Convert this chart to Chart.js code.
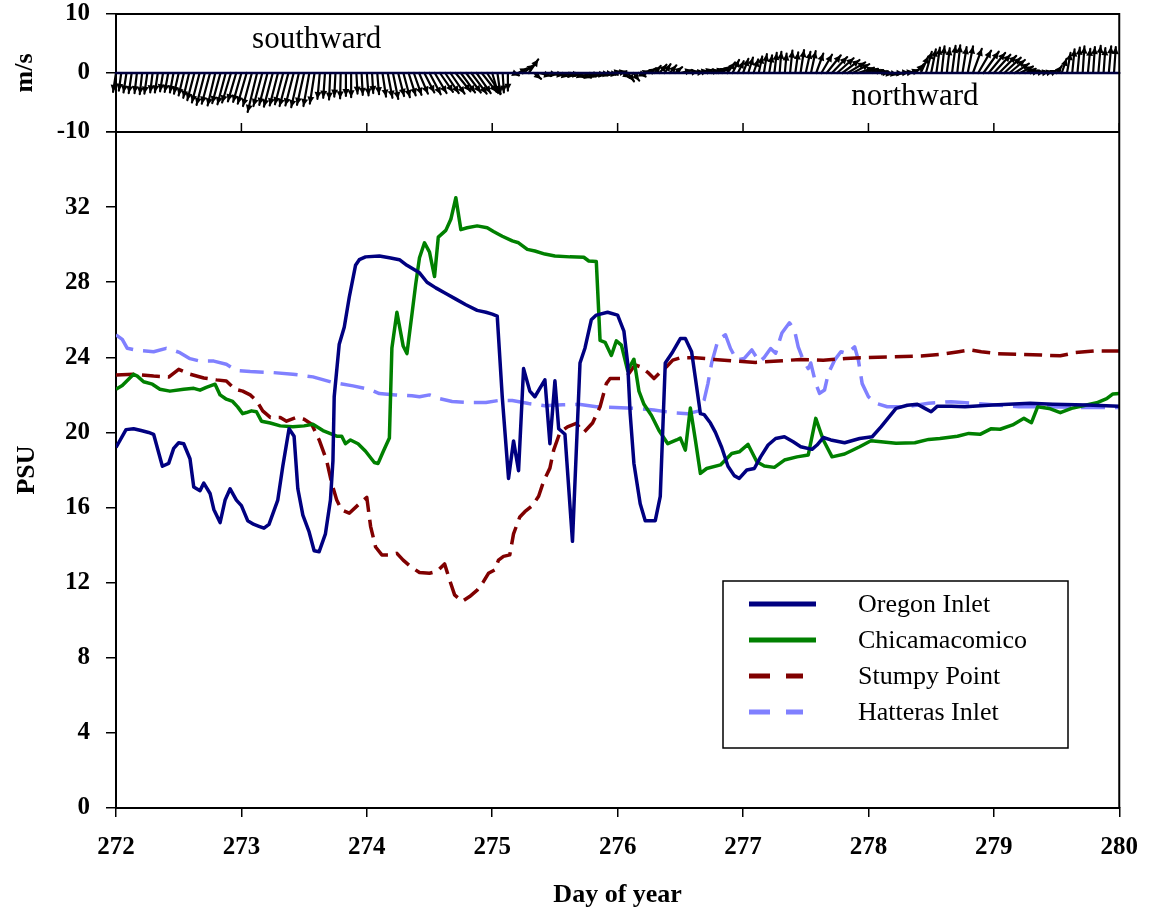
<!DOCTYPE html>
<html>
<head>
<meta charset="utf-8">
<script src="https://cdn.jsdelivr.net/npm/chart.js@4.4.0/dist/chart.umd.min.js"></script>
<style>
  html, body { margin: 0; padding: 0; background: #fff; }
  #wrap { width: 1154px; height: 915px; }
</style>
</head>
<body>
<div id="wrap"><canvas id="chart" width="1154" height="915"></canvas></div>
<script>
// Salinity series: [day of year, PSU]
const seriesNames = ['Oregon Inlet', 'Chicamacomico', 'Stumpy Point', 'Hatteras Inlet'];

const oregonInlet = [
  [272.00,19.2],[272.08,20.15],[272.14,20.2],[272.20,20.1],[272.26,20.0],[272.30,19.9],[272.37,18.2],[272.42,18.35],
  [272.46,19.15],[272.50,19.45],[272.54,19.4],[272.59,18.6],[272.62,17.1],[272.67,16.9],[272.70,17.3],[272.75,16.75],
  [272.78,15.9],[272.83,15.2],[272.87,16.4],[272.91,17.0],[272.96,16.4],[273.00,16.1],[273.05,15.3],[273.10,15.1],
  [273.14,15.0],[273.18,14.9],[273.22,15.1],[273.29,16.4],[273.33,18.2],[273.38,20.2],[273.42,19.8],[273.45,17.0],
  [273.49,15.6],[273.54,14.7],[273.58,13.7],[273.62,13.65],[273.67,14.6],[273.71,16.4],[273.73,18.5],[273.74,21.9],
  [273.78,24.7],[273.82,25.6],[273.86,27.2],[273.91,28.9],[273.94,29.2],[273.99,29.35],[274.10,29.4],[274.18,29.3],
  [274.26,29.2],[274.32,28.9],[274.42,28.5],[274.48,28.0],[274.55,27.7],[274.63,27.4],[274.71,27.1],[274.79,26.8],
  [274.88,26.5],[274.95,26.4],[275.00,26.3],[275.04,26.2],[275.08,21.9],[275.13,17.55],[275.17,19.55],[275.21,17.96],
  [275.25,23.4],[275.30,22.2],[275.34,21.9],[275.42,22.8],[275.46,19.4],[275.50,22.75],[275.53,20.2],[275.58,19.9],
  [275.64,14.2],[275.70,23.7],[275.74,24.5],[275.79,26.0],[275.83,26.25],[275.92,26.4],[276.00,26.25],[276.05,25.4],
  [276.08,23.7],[276.10,21.0],[276.13,18.35],[276.18,16.2],[276.22,15.3],[276.30,15.3],[276.34,16.6],[276.38,23.7],
  [276.44,24.3],[276.50,25.0],[276.54,25.0],[276.59,24.3],[276.62,22.9],[276.66,21.0],[276.69,20.95],[276.74,20.5],
  [276.78,20.0],[276.83,19.2],[276.88,18.2],[276.93,17.7],[276.97,17.55],[277.03,18.0],[277.09,18.08],[277.14,18.7],
  [277.20,19.33],[277.26,19.68],[277.33,19.77],[277.40,19.5],[277.46,19.24],[277.55,19.1],[277.59,19.33],[277.64,19.73],
  [277.70,19.6],[277.81,19.45],[277.93,19.68],[278.03,19.77],[278.10,20.3],[278.22,21.28],[278.31,21.45],[278.39,21.5],
  [278.45,21.28],[278.50,21.1],[278.55,21.4],[278.66,21.4],[278.77,21.37],[278.99,21.46],[279.29,21.55],[279.47,21.5],
  [279.74,21.46],[280.00,21.4]
];

const chicamacomico = [
  [272.00,22.3],[272.05,22.5],[272.14,23.1],[272.17,23.0],[272.22,22.7],[272.29,22.57],[272.35,22.3],[272.43,22.2],
  [272.54,22.3],[272.62,22.35],[272.67,22.25],[272.72,22.4],[272.79,22.57],[272.83,22.0],[272.88,21.77],[272.93,21.65],
  [272.97,21.36],[273.01,21.0],[273.04,21.06],[273.08,21.15],[273.12,21.1],[273.16,20.6],[273.23,20.5],[273.31,20.35],
  [273.41,20.3],[273.50,20.35],[273.57,20.44],[273.65,20.1],[273.76,19.8],[273.80,19.8],[273.83,19.4],[273.87,19.6],
  [273.93,19.4],[273.99,19.0],[274.06,18.4],[274.09,18.35],[274.13,18.97],[274.18,19.7],[274.20,24.5],[274.24,26.4],
  [274.29,24.6],[274.32,24.2],[274.36,26.3],[274.39,27.9],[274.42,29.3],[274.46,30.1],[274.50,29.6],[274.54,28.3],
  [274.57,30.4],[274.63,30.76],[274.67,31.35],[274.71,32.5],[274.75,30.8],[274.80,30.9],[274.88,31.0],[274.96,30.9],
  [275.01,30.7],[275.08,30.45],[275.16,30.2],[275.21,30.1],[275.28,29.75],[275.34,29.66],[275.42,29.5],[275.50,29.4],
  [275.62,29.35],[275.73,29.33],[275.77,29.13],[275.83,29.1],[275.86,24.9],[275.90,24.8],[275.95,24.1],[275.99,24.88],
  [276.03,24.65],[276.08,23.3],[276.13,23.9],[276.17,22.2],[276.21,21.5],[276.27,20.9],[276.33,20.1],[276.40,19.4],
  [276.47,19.6],[276.50,19.7],[276.54,19.06],[276.58,21.3],[276.62,19.6],[276.66,17.82],[276.71,18.08],[276.82,18.27],
  [276.91,18.88],[276.97,18.97],[277.04,19.36],[277.11,18.44],[277.17,18.21],[277.25,18.14],[277.33,18.53],[277.43,18.7],
  [277.52,18.8],[277.58,20.75],[277.64,19.6],[277.71,18.7],[277.81,18.85],[277.93,19.24],[278.02,19.56],[278.10,19.5],
  [278.22,19.42],[278.37,19.45],[278.48,19.63],[278.57,19.68],[278.71,19.8],[278.80,19.95],[278.89,19.9],[278.98,20.2],
  [279.05,20.17],[279.15,20.4],[279.24,20.75],[279.30,20.52],[279.35,21.37],[279.44,21.28],[279.53,21.05],[279.62,21.28],
  [279.73,21.45],[279.82,21.58],[279.90,21.8],[279.95,22.05],[280.00,22.08]
];

const stumpyPoint = [
  [272.00,23.06],[272.14,23.1],[272.30,23.0],[272.42,22.95],[272.50,23.36],[272.59,23.1],[272.70,22.9],[272.80,22.8],
  [272.88,22.74],[272.95,22.3],[273.01,22.2],[273.07,22.0],[273.12,21.7],[273.17,21.15],[273.23,20.8],[273.31,20.8],
  [273.36,20.6],[273.44,20.8],[273.50,20.7],[273.56,20.44],[273.62,19.6],[273.68,18.5],[273.72,17.3],[273.76,16.4],
  [273.80,15.87],[273.86,15.7],[273.94,16.2],[274.00,16.54],[274.03,15.0],[274.07,13.9],[274.12,13.48],[274.18,13.48],
  [274.24,13.56],[274.29,13.2],[274.35,12.85],[274.42,12.54],[274.50,12.5],[274.56,12.6],[274.62,13.0],[274.66,12.15],
  [274.70,11.35],[274.76,11.0],[274.82,11.26],[274.88,11.6],[274.93,12.05],[274.97,12.5],[275.02,12.68],[275.05,13.2],
  [275.09,13.4],[275.14,13.48],[275.17,14.6],[275.22,15.5],[275.26,15.78],[275.32,16.1],[275.37,16.6],[275.41,17.4],
  [275.46,18.1],[275.49,19.06],[275.54,20.0],[275.60,20.3],[275.67,20.48],[275.73,20.0],[275.80,20.5],[275.86,21.37],
  [275.91,22.6],[275.94,22.87],[276.03,22.87],[276.08,23.05],[276.14,23.6],[276.18,23.5],[276.24,23.2],[276.29,22.87],
  [276.33,23.14],[276.39,23.5],[276.44,23.85],[276.50,23.98],[276.62,23.98],[276.77,23.89],[276.95,23.8],[277.10,23.73],
  [277.28,23.8],[277.46,23.89],[277.64,23.85],[277.82,23.94],[278.00,23.99],[278.21,24.03],[278.42,24.07],[278.60,24.18],
  [278.72,24.3],[278.81,24.4],[278.90,24.3],[279.02,24.2],[279.20,24.16],[279.38,24.12],[279.53,24.08],[279.65,24.25],
  [279.80,24.34],[280.00,24.34]
];

const hatterasInlet = [
  [272.00,25.2],[272.05,24.96],[272.09,24.48],[272.17,24.37],[272.30,24.3],[272.40,24.48],[272.46,24.37],[272.51,24.25],
  [272.59,23.93],[272.67,23.8],[272.78,23.8],[272.88,23.63],[272.96,23.3],[273.07,23.24],[273.25,23.19],[273.41,23.1],
  [273.57,22.96],[273.73,22.66],[273.89,22.48],[274.02,22.3],[274.10,22.07],[274.23,22.0],[274.36,21.95],[274.42,21.9],
  [274.50,22.0],[274.58,21.8],[274.68,21.65],[274.81,21.6],[274.95,21.6],[275.05,21.7],[275.16,21.7],[275.29,21.54],
  [275.42,21.42],[275.56,21.47],[275.69,21.5],[275.83,21.37],[275.98,21.33],[276.14,21.28],[276.29,21.19],[276.44,21.05],
  [276.56,21.0],[276.65,21.15],[276.69,21.73],[276.72,22.6],[276.75,23.7],[276.80,24.92],[276.86,25.2],[276.90,24.47],
  [276.95,23.85],[277.01,23.94],[277.07,24.4],[277.13,23.76],[277.17,24.0],[277.22,24.47],[277.26,24.22],[277.31,25.3],
  [277.37,25.84],[277.41,25.45],[277.44,24.56],[277.48,23.85],[277.52,23.4],[277.54,23.7],[277.58,22.6],[277.61,22.08],
  [277.65,22.26],[277.68,23.14],[277.73,23.85],[277.78,24.3],[277.83,24.2],[277.89,24.56],[277.92,23.85],[277.95,22.6],
  [278.00,21.9],[278.06,21.55],[278.15,21.37],[278.30,21.37],[278.48,21.55],[278.66,21.64],[278.84,21.55],[279.02,21.46],
  [279.20,21.37],[279.44,21.37],[279.68,21.33],[280.00,21.33]
];

// Hourly wind components (m/s), first sample at day 272
const windStartDay = 272;
const windStepDays = 1 / 24;
const windU = [
  -0.5,-0.4,-0.5,-0.5,-0.4,-0.4,-0.5,-0.4,-0.5,-0.5,-0.6,-0.6,
  -0.8,-0.9,-1.0,-1.2,-1.3,-1.4,-1.4,-1.3,-1.4,-1.4,-1.5,-1.4,
  -1.4,-1.5,-1.5,-1.6,-1.5,-1.4,-1.5,-1.4,-1.4,-1.5,-1.4,-1.3,
  -1.2,-1.0,-0.8,-0.4,-0.3,-0.2,-0.2,-0.1,0.0,0.0,0.2,0.2,
  0.3,0.2,0.3,0.6,0.8,0.9,1.0,1.1,1.2,1.3,1.5,1.7,
  1.9,2.0,2.2,2.3,2.4,2.5,2.4,2.5,2.6,2.4,2.5,2.3,
  1.0,0.5,0.2,0.0,1.0,1.5,1.8,1.6,1.2,2.0,2.2,2.4,
  2.3,2.5,2.4,2.2,2.6,2.5,2.3,2.4,2.2,2.0,1.8,1.5,
  1.5,1.2,1.0,1.0,1.2,1.0,1.2,1.1,1.2,1.0,1.1,1.2,
  2.0,2.2,2.3,2.1,2.0,2.2,2.1,1.8,1.5,1.3,1.1,1.0,
  0.9,0.8,0.8,0.6,0.5,0.5,0.4,0.3,0.3,0.4,0.5,0.6,
  0.8,0.8,1.2,1.8,2.4,2.6,2.8,2.9,3.0,2.8,2.7,2.5,
  2.5,2.4,1.8,1.5,1.4,1.5,1.6,1.5,1.5,1.4,1.3,1.0,
  0.8,0.6,0.5,0.5,0.6,0.5,0.7,0.9,1.5,2.2,2.6,2.8,
  2.8,2.9,2.8,2.6,2.4,2.2,1.8,1.5,1.5,1.4,1.2,1.0,
  0.9,0.8,0.6,0.4,0.4,0.3,0.4,0.3,0.4,0.3,0.4,0.3
];
const windV = [
  -3.2,-3.0,-3.3,-3.4,-3.4,-3.6,-3.5,-3.3,-3.3,-3.1,-3.2,-3.3,
  -3.5,-3.8,-4.2,-4.6,-5.0,-5.4,-5.2,-5.5,-5.1,-5.3,-5.0,-4.8,
  -4.9,-5.2,-5.6,-6.6,-5.6,-5.4,-5.7,-5.5,-5.3,-5.6,-5.5,-5.8,
  -5.4,-5.6,-5.2,-4.4,-4.2,-4.5,-4.0,-4.3,-3.9,-4.1,-3.5,-3.7,
  -3.8,-3.4,-3.6,-4.0,-4.2,-4.4,-3.9,-4.1,-3.8,-3.7,-3.5,-3.3,
  -3.6,-3.4,-3.2,-3.4,-3.5,-3.1,-3.3,-3.3,-3.5,-3.4,-3.2,-3.5,
  -3.4,-3.6,-3.3,-3.0,-0.4,0.8,1.4,2.3,-1.0,-0.5,-0.3,-0.4,
  -0.6,-0.5,-0.4,-0.7,-0.8,-0.6,-0.5,-0.4,-0.3,-0.2,-0.3,0.3,
  0.3,-0.8,-1.4,-1.3,-0.6,0.4,0.8,1.2,1.4,1.5,1.3,1.0,
  0.5,0.3,0.2,0.4,0.6,0.5,0.7,0.8,1.2,1.8,2.2,2.0,
  2.4,2.6,2.3,2.8,3.2,3.0,3.4,3.6,3.3,3.8,3.5,3.9,
  3.6,3.7,3.3,3.1,3.0,2.7,2.5,2.2,1.8,1.5,0.9,0.7,
  0.5,0.3,0.1,-0.2,-0.3,-0.1,0.1,0.2,0.6,1.5,2.8,3.6,
  4.0,4.3,4.5,4.2,4.6,4.7,4.4,4.5,4.1,3.8,3.6,3.4,
  3.1,2.9,2.6,2.2,1.6,1.1,0.7,0.4,0.3,0.2,0.3,0.5,
  1.2,2.4,3.4,4.0,4.3,4.5,4.1,4.4,4.6,4.2,4.5,4.4
];

const serif = "'Liberation Serif', 'Times New Roman', Times, serif";
const toXY = arr => arr.map(p => ({x: p[0], y: p[1]}));

// draws the wind sticks with arrow heads plus the direction labels
const windSticks = {
  id: 'windSticks',
  afterDatasetsDraw(chart) {
    const ctx = chart.ctx;
    const xs = chart.scales.x;
    const ys = chart.scales.yw;
    const y0 = ys.getPixelForValue(0);
    const ppu = Math.abs(ys.getPixelForValue(1) - y0);
    ctx.save();
    ctx.strokeStyle = '#000';
    ctx.fillStyle = '#000';
    ctx.lineWidth = 2.2;
    ctx.lineCap = 'round';
    for (let i = 0; i < windV.length; i++) {
      const x0 = xs.getPixelForValue(windStartDay + i * windStepDays);
      const x1 = x0 + windU[i] * ppu;
      const y1 = ys.getPixelForValue(windV[i]);
      ctx.beginPath();
      ctx.moveTo(x0, y0);
      ctx.lineTo(x1, y1);
      ctx.stroke();
      const len = Math.hypot(x1 - x0, y1 - y0);
      if (len < 3) continue;
      const a = Math.atan2(y1 - y0, x1 - x0);
      const h = 7, w = 3.5;
      ctx.beginPath();
      ctx.moveTo(x1, y1);
      ctx.lineTo(x1 - h * Math.cos(a) + w * Math.sin(a), y1 - h * Math.sin(a) - w * Math.cos(a));
      ctx.lineTo(x1 - h * Math.cos(a) - w * Math.sin(a), y1 - h * Math.sin(a) + w * Math.cos(a));
      ctx.closePath();
      ctx.fill();
    }
    // zero line
    ctx.strokeStyle = '#000040';
    ctx.lineWidth = 2.5;
    ctx.beginPath();
    ctx.moveTo(xs.left, y0);
    ctx.lineTo(xs.right, y0);
    ctx.stroke();

    ctx.fillStyle = '#000';
    ctx.font = '31px ' + serif;
    ctx.textAlign = 'center';
    ctx.textBaseline = 'middle';
    ctx.fillText('southward', xs.getPixelForValue(273.6), ys.getPixelForValue(5.6));
    ctx.fillText('northward', xs.getPixelForValue(278.37), ys.getPixelForValue(-4));
    ctx.restore();
  }
};

// top/right frame of both panels and the ticks along the panel join
const panelFrame = {
  id: 'panelFrame',
  afterDraw(chart) {
    const ctx = chart.ctx;
    const xs = chart.scales.x;
    const yw = chart.scales.yw;
    const ys = chart.scales.y;
    ctx.save();
    ctx.strokeStyle = '#000';
    ctx.lineWidth = 2;
    ctx.beginPath();
    ctx.moveTo(xs.left, yw.top);
    ctx.lineTo(xs.right, yw.top);
    ctx.lineTo(xs.right, ys.bottom);
    ctx.moveTo(xs.left, ys.top);
    ctx.lineTo(xs.right, ys.top);
    ctx.stroke();
    ctx.lineWidth = 1.5;
    ctx.beginPath();
    xs.ticks.forEach(t => {
      const px = xs.getPixelForValue(t.value);
      ctx.moveTo(px, ys.top);
      ctx.lineTo(px, ys.top - 9);
    });
    ctx.stroke();
    ctx.restore();
  }
};

// boxed legend in the lower right of the salinity panel
const boxLegend = {
  id: 'boxLegend',
  afterDraw(chart) {
    const ctx = chart.ctx;
    const box = {x: 723, y: 581, w: 345, h: 167};
    ctx.save();
    ctx.fillStyle = '#fff';
    ctx.fillRect(box.x, box.y, box.w, box.h);
    ctx.strokeStyle = '#000';
    ctx.lineWidth = 1.5;
    ctx.strokeRect(box.x, box.y, box.w, box.h);
    chart.data.datasets.forEach((ds, i) => {
      const yy = 604 + i * 36;
      const dashed = ds.borderDash && ds.borderDash.length;
      ctx.strokeStyle = ds.borderColor;
      ctx.lineWidth = 5;
      ctx.setLineDash(dashed ? [21, 16] : []);
      ctx.beginPath();
      ctx.moveTo(749, yy);
      ctx.lineTo(dashed ? 803 : 816, yy);
      ctx.stroke();
      ctx.setLineDash([]);
      ctx.fillStyle = '#000';
      ctx.font = '26px ' + serif;
      ctx.textAlign = 'left';
      ctx.textBaseline = 'middle';
      ctx.fillText(ds.label, 858, yy + 1);
    });
    ctx.restore();
  }
};

const tickFont = {family: serif, size: 25, weight: 'bold'};
const titleFont = {family: serif, size: 26, weight: 'bold'};

// fixed left axis width, no extra label padding above/below the panels
function fitLeftAxis(scale) {
  scale.width = 116;
  scale.paddingTop = 0;
  scale.paddingBottom = 0;
}

new Chart(document.getElementById('chart'), {
  type: 'line',
  data: {
    datasets: [
      {label: seriesNames[0], data: toXY(oregonInlet), yAxisID: 'y', borderColor: '#000080', borderWidth: 3.5},
      {label: seriesNames[1], data: toXY(chicamacomico), yAxisID: 'y', borderColor: '#008000', borderWidth: 3.5},
      {label: seriesNames[2], data: toXY(stumpyPoint), yAxisID: 'y', borderColor: '#800000', borderWidth: 3.5, borderDash: [18, 8]},
      {label: seriesNames[3], data: toXY(hatterasInlet), yAxisID: 'y', borderColor: '#8080FF', borderWidth: 3.5, borderDash: [24, 10]}
    ]
  },
  options: {
    responsive: false,
    animation: false,
    events: [],
    layout: {padding: {left: 0, right: 32, top: 14, bottom: 0}},
    elements: {
      point: {radius: 0},
      line: {tension: 0, fill: false, borderJoinStyle: 'round', borderCapStyle: 'butt'}
    },
    plugins: {legend: {display: false}, tooltip: {enabled: false}},
    scales: {
      x: {
        type: 'linear',
        min: 272,
        max: 280,
        ticks: {stepSize: 1, color: '#000', font: tickFont, padding: 16},
        grid: {drawOnChartArea: false, drawTicks: true, tickLength: 9, color: '#000', lineWidth: 1.5},
        border: {display: true, color: '#000', width: 2},
        title: {display: true, text: 'Day of year', color: '#000', font: titleFont, padding: {top: 0, bottom: 4}},
        afterFit(scale) { scale.height = 107; }
      },
      yw: {
        type: 'linear',
        position: 'left',
        stack: 'panels',
        stackWeight: 118,
        weight: 1,
        min: -10,
        max: 10,
        ticks: {stepSize: 10, color: '#000', font: tickFont, padding: 16},
        grid: {drawOnChartArea: false, drawTicks: true, tickLength: 10, color: '#000', lineWidth: 1.5},
        border: {display: true, color: '#000', width: 2},
        title: {display: true, text: 'm/s', color: '#000', font: titleFont, padding: {top: 10, bottom: 0}},
        afterFit: fitLeftAxis
      },
      y: {
        type: 'linear',
        position: 'left',
        stack: 'panels',
        stackWeight: 676,
        weight: 0,
        min: 0,
        max: 36,
        ticks: {
          stepSize: 4, color: '#000', font: tickFont, padding: 16,
          callback: v => (v === 36 ? '' : v)
        },
        grid: {drawOnChartArea: false, drawTicks: true, tickLength: 10, color: '#000', lineWidth: 1.5},
        border: {display: true, color: '#000', width: 2},
        title: {display: true, text: 'PSU', color: '#000', font: titleFont, padding: {top: 12, bottom: 0}},
        afterFit: fitLeftAxis
      }
    }
  },
  plugins: [windSticks, panelFrame, boxLegend]
});
</script>
</body>
</html>
